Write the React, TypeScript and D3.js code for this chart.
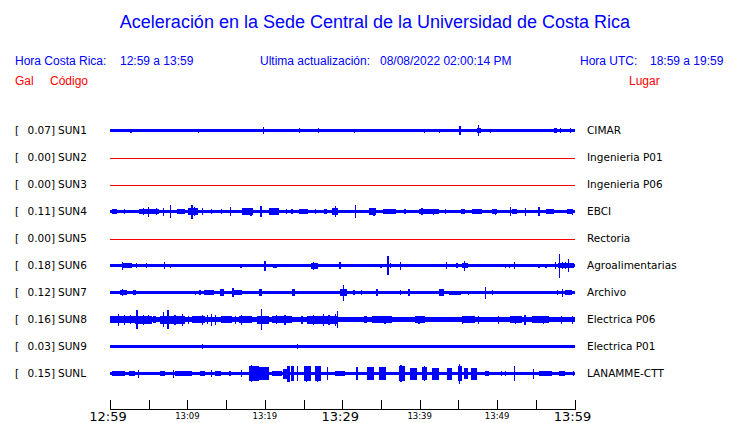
import React from "react";
import * as d3 from "d3";

// ---------- data ----------
const STATIONS = ["SUN1", "SUN2", "SUN3", "SUN4", "SUN5", "SUN6", "SUN7", "SUN8", "SUN9", "SUNL"];
const PEAKS = ["0.07", "0.00", "0.00", "0.11", "0.00", "0.18", "0.12", "0.16", "0.03", "0.15"];
const PLACES = ["CIMAR", "Ingenieria P01", "Ingenieria P06", "EBCI", "Rectoria", "Agroalimentarias", "Archivo", "Electrica P06", "Electrica P01", "LANAMME-CTT"];
// background noise level of each trace (counts); 0 = no signal
const BASE = [1.4, 0, 0, 1.8, 0, 1.5, 1.6, 2.2, 1.4, 1.8];

// minute offsets from 12:59
const TICK_MINUTES = [0, 5, 10, 15, 20, 25, 30, 35, 40, 45, 50, 55, 60];
const TICK_LABELS = ["12:59", "", "13:09", "", "13:19", "", "13:29", "", "13:39", "", "13:49", "", "13:59"];
const TICK_MAJOR = [true, false, false, false, false, false, true, false, false, false, false, false, true];

// spikes: [minute, amplitude]; bursts: [startMinute, endMinute, amplitude]
const SUN1_SPIKES = [[2.7, 2], [11.4, 2], [19.8, 3.3], [24.5, 2.7], [26.9, 2.7], [31.6, 2], [37.3, 1.8], [40.6, 2], [42.6, 2], [45.2, 4.7], [47.6, 5.5], [49.1, 2], [57.5, 2.5], [58.2, 2.2], [59.5, 2.2]];
const SUN1_BURSTS = [[57.3, 57.8, 2.2], [47.4, 47.9, 2.3]];

const SUN4_SPIKES = [[5.0, 5], [6.9, 4], [7.8, 6.7], [10.6, 7], [11.9, 3.3], [15.6, 4.7], [19.5, 5.7], [29.1, 5.7], [31.7, 6.7], [34.1, 4], [40.3, 3.3], [51.7, 4.7], [53.7, 4], [55.4, 4.7], [1.9, 2.3], [13.1, 2.5], [14.4, 2.5], [22.8, 2.2], [23.5, 2.2], [26.5, 2.2], [38.1, 2.3], [49.8, 3], [43.3, 2.3], [4.3, 3.3], [6.0, 3.3], [10.9, 4.7], [18.2, 4], [20.8, 3.7], [33.8, 3.7], [41.8, 3], [59.7, 3]];
const SUN4_BURSTS = [[0.2, 0.9, 2.7], [3.7, 6.3, 2.7], [8.6, 9.7, 2.3], [10.1, 11.4, 3.3], [17.0, 18.5, 3.3], [20.5, 21.8, 3.3], [24.4, 25.6, 2.7], [27.6, 28.0, 2.3], [28.7, 29.5, 3.3], [33.4, 34.3, 3.5], [35.3, 36.9, 2.1], [39.9, 42.5, 2.6], [45.3, 45.9, 2.7], [46.8, 48.1, 2.1], [49.4, 50.0, 2.7], [51.9, 52.6, 2.5], [56.3, 57.3, 2.7], [59.0, 59.7, 2.5]];

const SUN6_SPIKES = [[1.6, 4], [3.4, 2.7], [4.7, 2.7], [5.4, 1.9], [6.25, 1.9], [7.0, 3.3], [7.8, 2], [8.75, 1.9], [16.9, 2], [18.1, 1.9], [19.0, 1.9], [20.0, 5], [24.1, 1.9], [26.3, 4], [27.8, 1.9], [29.7, 3.3], [31.9, 1.9], [32.5, 1.9], [35.0, 2], [35.9, 9.3], [36.2, 2.7], [37.5, 4], [43.5, 3.3], [44.8, 2.7], [45.8, 5], [46.1, 2.7], [48.7, 1.9], [50.0, 1.9], [51.1, 2], [51.6, 2], [52.2, 3.3], [54.3, 1.9], [55.0, 1.9], [55.4, 2], [56.3, 2], [57.5, 3.3], [58.1, 12], [58.4, 3.3], [58.8, 3.3], [59.2, 6.7], [59.7, 2.7]];
const SUN6_BURSTS = [[1.5, 2.8, 2.5], [11.2, 12.7, 1.9], [14.0, 15.1, 1.9], [21.1, 21.6, 2], [25.9, 26.9, 3], [47.2, 48.1, 1.9], [45.5, 46.2, 2.5], [57.9, 59.9, 2.2]];

const SUN7_SPIKES = [[11.0, 2], [11.6, 2.7], [15.9, 4.7], [30.2, 8], [31.5, 2.7], [32.5, 2.7], [34.5, 3.3], [37.5, 2.7], [38.6, 3.3], [39.9, 1.9], [46.3, 2], [47.2, 1.9], [48.5, 6], [49.4, 2.7], [53.0, 1.9], [53.7, 1.9], [57.8, 2.7], [58.4, 4], [1.6, 3.3], [14.4, 3.7], [19.4, 3.7]];
const SUN7_BURSTS = [[0.2, 0.9, 1.9], [1.3, 2.2, 2.7], [3.0, 3.4, 2.7], [4.3, 5.8, 1.9], [7.8, 8.4, 1.9], [9.1, 10.6, 1.9], [12.1, 13.4, 2.2], [14.2, 14.7, 3.3], [15.7, 17.0, 2.7], [17.7, 18.3, 1.9], [19.2, 19.6, 3.3], [20.5, 22.6, 1.9], [23.5, 23.9, 3.3], [24.8, 25.6, 1.9], [27.6, 29.1, 1.9], [29.7, 30.6, 3.3], [33.6, 34.3, 1.9], [35.1, 37.3, 1.9], [42.5, 43.1, 3.3], [43.8, 45.3, 2], [50.0, 52.2, 1.9], [54.5, 57.1, 1.9], [58.8, 59.7, 2.2]];

const SUN8_SPIKES = [[1.1, 6], [3.5, 9.3], [4.3, 5], [6.9, 7.3], [7.5, 9.3], [9.35, 6], [11.9, 5], [13.1, 6], [13.6, 5], [17.0, 5], [19.6, 10.7], [22.6, 5], [27.6, 6], [29.1, 6], [29.4, 8.3], [47.6, 4], [53.6, 5], [1.9, 5], [10.1, 4], [45.5, 4], [50.2, 4], [59.7, 4], [2.6, 4.5], [5.0, 4.7], [8.4, 5], [12.6, 4.5], [16.2, 4], [21.5, 4.7], [24.8, 4], [26.3, 5], [28.3, 5], [35.5, 4], [39.9, 4], [52.4, 4], [56.0, 4], [58.3, 4]];
const SUN8_BURSTS = [[0.0, 3.2, 3.4], [3.2, 5.4, 4], [5.6, 6.0, 3.4], [6.5, 9.7, 4], [10.6, 12.3, 3.4], [14.4, 15.7, 3.4], [16.6, 18.3, 3.6], [19.0, 20.5, 4], [20.9, 23.5, 3.8], [23.9, 25.2, 2.8], [25.4, 29.5, 4], [30.4, 32.1, 2.8], [32.8, 33.2, 3.4], [33.8, 36.4, 3.2], [36.9, 39.0, 2.8], [39.4, 40.7, 3.4], [42.0, 44.2, 2.5], [45.5, 47.2, 3.2], [48.9, 51.1, 2.8], [51.7, 53.2, 3.4], [54.5, 56.7, 3.2], [57.5, 60.0, 2.8]];

const SUN9_SPIKES = [[5.0, 1.8], [11.9, 2.7], [24.2, 2.7], [30.7, 1.8], [42.7, 1.8], [44.6, 1.8], [51.4, 1.8]];
const SUN9_BURSTS: number[][] = [];

const SUNL_SPIKES = [[3.7, 4], [8.2, 4], [13.1, 3.3], [15.5, 2.7], [17.0, 3.3], [23.5, 7.3], [23.7, 7.3], [24.2, 7.3], [28.1, 6.7], [31.9, 6.7], [45.1, 10], [50.6, 2.7], [51.1, 2.7], [52.2, 7.7], [54.7, 5], [59.9, 2.7], [18.3, 8.7], [25.4, 8], [26.8, 8], [37.6, 8.3], [40.6, 7.7]];
const SUNL_BURSTS = [[0.2, 1.9, 2.1], [2.4, 3.2, 2.1], [4.5, 6.25, 1.9], [6.5, 7.1, 2.7], [8.4, 10.6, 2.1], [11.6, 12.3, 2.1], [13.6, 14.4, 2.1], [17.9, 19.2, 7.7], [19.2, 20.5, 6.3], [20.9, 22.2, 2.1], [22.4, 22.8, 5], [22.8, 23.3, 8], [25.0, 25.9, 7.3], [26.5, 27.2, 7.3], [29.1, 30.4, 2.1], [33.2, 34.1, 6.7], [34.7, 35.6, 6.7], [37.3, 38.1, 7.3], [38.8, 39.7, 6], [40.3, 40.9, 6.7], [41.6, 42.5, 6], [43.5, 44.2, 6], [45.0, 45.5, 7.3], [45.7, 46.3, 5.3], [46.6, 47.4, 6], [48.5, 48.9, 2.1], [55.4, 57.1, 2.7], [58.0, 58.8, 2.1]];

const EMPTY: number[][] = [];
const SPIKES = [SUN1_SPIKES, EMPTY, EMPTY, SUN4_SPIKES, EMPTY, SUN6_SPIKES, SUN7_SPIKES, SUN8_SPIKES, SUN9_SPIKES, SUNL_SPIKES];
const BURSTS = [SUN1_BURSTS, EMPTY, EMPTY, SUN4_BURSTS, EMPTY, SUN6_BURSTS, SUN7_BURSTS, SUN8_BURSTS, SUN9_BURSTS, SUNL_BURSTS];

// ---------- chart ----------
const W = 740;
const H = 423;
const BLUE = "#0000ff";
const RED = "#ff0000";
const SANS = "'Liberation Sans', Arial, Helvetica, sans-serif";
const DEJAVU = "'DejaVu Sans', sans-serif";

export default function App() {
  const x = d3.scaleLinear().domain([0, 60]).range([110, 574.5]);
  const y = d3.scalePoint<string>().domain(STATIONS).range([130.5, 373.5]);
  const amp = d3.scaleLinear().domain([0, 10]).range([0, 10]);

  return (
    <div style={{ position: "absolute", left: 0, top: 0 }}>
      <svg width={W} height={H} style={{ display: "block", background: "#fff" }}>
        <text x={375} y={28} textAnchor="middle" fontFamily={SANS} fontSize={18} fill={BLUE}>
          Aceleración en la Sede Central de la Universidad de Costa Rica
        </text>
        <g fontFamily={SANS} fontSize={12} fill={BLUE}>
          <text x={15} y={65}>Hora Costa Rica:</text>
          <text x={120} y={65}>12:59 a 13:59</text>
          <text x={260} y={65}>Ultima actualización:</text>
          <text x={380} y={65}>08/08/2022 02:00:14 PM</text>
          <text x={580} y={65}>Hora UTC:</text>
          <text x={650} y={65}>18:59 a 19:59</text>
        </g>
        <g fontFamily={SANS} fontSize={12} fill={RED}>
          <text x={15} y={85}>Gal</text>
          <text x={50} y={85}>Código</text>
          <text x={629} y={85}>Lugar</text>
        </g>

        {STATIONS.map((s, i) => {
          const c = y(s) as number;
          const base = BASE[i];
          return (
            <g key={s}>
              <g fontFamily={DEJAVU} fontSize={10.5} fill="#000">
                <text x={15} y={c + 3.5}>[</text>
                <text x={55} y={c + 3.5} textAnchor="end">{PEAKS[i] + "]"}</text>
                <text x={58} y={c + 3.5}>{s}</text>
                <text x={587} y={c + 3.5}>{PLACES[i]}</text>
              </g>
              {base === 0 ? (
                <line x1={x(0)} x2={x(60)} y1={c + 0.5} y2={c + 0.5} stroke={RED} strokeWidth={1} shapeRendering="crispEdges" />
              ) : (
                <g fill={BLUE} shapeRendering="crispEdges">
                  <rect x={x(0)} width={x(60) - x(0)} y={c - amp(base)} height={2 * amp(base)} />
                  {BURSTS[i].map((b, j) => (
                    <rect key={"b" + j} x={x(b[0])} width={Math.max(1, x(b[1]) - x(b[0]))} y={c - amp(b[2])} height={2 * amp(b[2])} />
                  ))}
                  {SPIKES[i].map((p, j) => (
                    <rect key={"p" + j} x={x(p[0]) - 0.6} width={1.3} y={c - amp(p[1])} height={2 * amp(p[1])} />
                  ))}
                </g>
              )}
            </g>
          );
        })}

        <g stroke="#000" strokeWidth={1} shapeRendering="crispEdges">
          <line x1={x(0)} x2={x(60)} y1={409.5} y2={409.5} />
          {TICK_MINUTES.map((m) => (
            <line key={m} x1={Math.round(x(m)) + 0.5} x2={Math.round(x(m)) + 0.5} y1={409.5} y2={400} />
          ))}
        </g>
        <g fontFamily={DEJAVU} fill="#000" textAnchor="middle">
          {TICK_MINUTES.map((m, i) =>
            TICK_LABELS[i] ? (
              <text key={m} x={x(m) - (TICK_MAJOR[i] ? 2 : 0)} y={TICK_MAJOR[i] ? 421 : 418.5} fontSize={TICK_MAJOR[i] ? 13 : 8.5}>
                {TICK_LABELS[i]}
              </text>
            ) : null
          )}
        </g>
      </svg>
    </div>
  );
}
